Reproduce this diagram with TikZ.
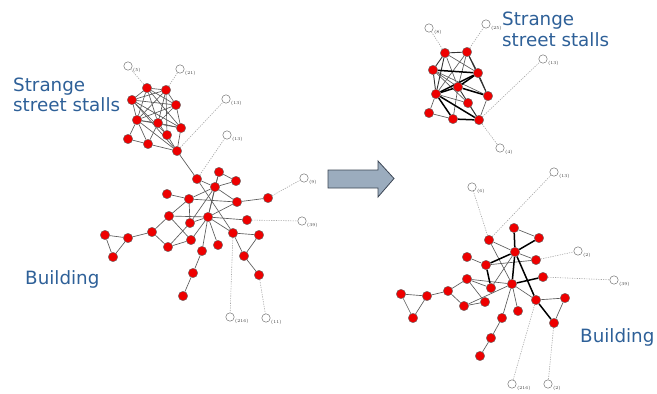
\documentclass[tikz,border=0pt]{standalone}
\usepackage{fontspec}
\newfontfamily\capfont{DejaVu Sans}
\usetikzlibrary{backgrounds}
\definecolor{capblue}{RGB}{46,96,152}
\definecolor{nodered}{RGB}{238,0,0}
\definecolor{arrowfill}{RGB}{155,172,190}
\definecolor{arrowline}{RGB}{60,70,85}
\tikzset{
  rn/.style={circle, minimum size=9.4pt, inner sep=0pt, fill=nodered, draw=black!60, line width=0.4pt},
  on/.style={circle, minimum size=8.4pt, inner sep=0pt, fill=white, draw=black!55, line width=0.5pt},
  lbl/.style={font=\fontsize{4.4}{5}\selectfont, text=black!80, inner sep=0.5pt},
  edge/.style={draw=black!65, line width=0.65pt},
  medge/.style={draw=black!80, line width=0.9pt},
  tedge/.style={draw=black, line width=1.5pt},
  dedge/.style={draw=black!35, line width=0.6pt, dash pattern=on 1.2pt off 1.2pt},
  caption/.style={font=\capfont\fontsize{18.3}{20.5}\selectfont, text=capblue, align=left, inner sep=0pt, anchor=base west}
}
\begin{document}
\begin{tikzpicture}[x=1pt,y=-1pt]
\useasboundingbox (0,0) rectangle (657,394);

% ---------- left: market stall cluster ----------
\foreach \n/\x/\y in {A1/147/88, A2/166/90, A3/132/100, A4/176/105, A5/137/120,
  A6/158/123, A7/181/128, A8/167/135, A9/128/139, A10/148/144, A11/177/151}
  \node[rn] (\n) at (\x,\y) {};

% ---------- left: building cluster ----------
\foreach \n/\x/\y in {B1/197/179, B2/219/172, B3/236/181, B4/215/187, B5/167/194,
  B6/189/199, B7/237/202, B8/268/198, B9/169/216, B10/190/223, B11/208/217,
  B12/247/220, B13/152/232, B14/191/240, B15/233/233, B16/259/235, B17/168/247,
  B18/218/245, B19/202/251, B20/244/256, B21/193/273, B22/259/275, B23/183/296,
  C1/105/235, C2/128/238, C3/113/257}
  \node[rn] (\n) at (\x,\y) {};

% ---------- left: outside contacts ----------
\foreach \n/\x/\y/\t in {l5/128/66/{(5)}, l21/180/69/{(21)}, l13a/226/99/{(13)},
  l13b/227/135/{(13)}, l9/304/178/{(9)}, l39/302/221/{(39)}, l216/230/317/{(216)},
  l11/266/318/{(11)}}
  \node[on, label={[lbl]-15:\t}] (\n) at (\x,\y) {};

% ---------- right: market stall cluster ----------
\foreach \n/\x/\y in {D1/445/53, D2/467/52, D3/433/70, D4/478/73, D5/458/87,
  D6/436/94, D7/488/96, D8/468/103, D9/429/113, D10/453/119, D11/479/120}
  \node[rn] (\n) at (\x,\y) {};

% ---------- right: building cluster ----------
\foreach \n/\x/\y in {E1/489/240, E2/514/228, E3/539/238, E4/515/252, E5/467/257,
  E6/536/260, E7/486/265, E8/543/277, E9/467/279, E10/512/284, E11/491/288,
  E12/448/291, E14/427/296, E15/401/294, E16/413/318, E17/464/306, E18/485/302,
  E19/536/300, E20/565/298, E21/518/311, E22/502/318, E24/491/338, E25/480/356,
  E23/554/323}
  \node[rn] (\n) at (\x,\y) {};

% ---------- right: outside contacts ----------
\foreach \n/\x/\y/\t in {r8/429/28/{(8)}, r25/486/24/{(25)}, r13a/543/59/{(13)},
  r4/500/148/{(4)}, r6/472/187/{(6)}, r13b/554/172/{(13)}, r2a/578/251/{(2)},
  r39/614/280/{(39)}, r216/512/384/{(216)}, r2b/548/384/{(2)}}
  \node[on, label={[lbl]-15:\t}] (\n) at (\x,\y) {};

\begin{pgfonlayer}{background}
  % stall cluster, left
  \foreach \a/\b in {A1/A2, A1/A3, A1/A4, A1/A5, A1/A6, A1/A7, A2/A3, A2/A4, A2/A5,
    A2/A6, A2/A8, A3/A4, A3/A5, A3/A7, A3/A8, A3/A11, A4/A5, A4/A6, A4/A7,
    A5/A6, A5/A7, A5/A9, A5/A10, A5/A11, A6/A7, A6/A8, A6/A10, A7/A11, A8/A11,
    A9/A10, A10/A11}
    \draw[edge] (\a) -- (\b);
  % building cluster, left
  \foreach \a/\b in {A11/B1, B1/B4, B1/B15, B2/B3, B2/B4, B4/B3, B4/B6, B4/B7,
    B4/B11, B4/B10, B5/B6, B6/B7, B6/B9, B6/B10, B9/B11, B9/B13, B9/B14,
    B13/B17, B17/B14, B10/B17, B10/B11, B11/B7, B11/B12, B11/B15, B11/B14,
    B11/B19, B11/B18, B11/B2, B7/B8, B15/B16, B15/B20, B16/B20, B20/B22,
    B19/B21, B21/B23, C1/C2, C1/C3, C2/C3, C2/B13}
    \draw[edge] (\a) -- (\b);
  \foreach \a/\b in {A1/l5, A2/l21, A11/l13a, B1/l13b, B8/l9, B12/l39,
    B15/l216, B22/l11}
    \draw[dedge] (\a) -- (\b);

  % stall cluster, right
  \foreach \a/\b in {D1/D5, D1/D4, D2/D5, D2/D6, D3/D5, D3/D8, D6/D8,
    D6/D9, D9/D10, D7/D11, D8/D11, D5/D10, D3/D7}
    \draw[edge] (\a) -- (\b);
  \foreach \a/\b in {D1/D2, D1/D3, D1/D6, D2/D4, D2/D7, D3/D6, D4/D7, D5/D11}
    \draw[medge] (\a) -- (\b);
  \foreach \a/\b in {D3/D4, D4/D5, D4/D6, D5/D6, D5/D7, D6/D10, D6/D11, D10/D11}
    \draw[tedge] (\a) -- (\b);
  \foreach \a/\b in {D1/r8, D2/r25, D11/r13a, D11/r4}
    \draw[dedge] (\a) -- (\b);

  % building cluster, right
  \foreach \a/\b in {E1/E4, E2/E3, E4/E6, E5/E7, E7/E6, E9/E12, E9/E11, E9/E10,
    E12/E14, E12/E17, E17/E18, E17/E10, E9/E18, E10/E19, E10/E21, E10/E22,
    E22/E24, E24/E25, E19/E20, E20/E23, E14/E15, E15/E16, E14/E16, E1/E10,
    E4/E11}
    \draw[edge] (\a) -- (\b);
  \foreach \a/\b in {E2/E4, E3/E4, E4/E7, E4/E10, E4/E19, E7/E11, E10/E8, E19/E23}
    \draw[tedge] (\a) -- (\b);
  \foreach \a/\b in {E1/r6, E1/r13b, E6/r2a, E8/r39, E19/r216, E23/r2b}
    \draw[dedge] (\a) -- (\b);
\end{pgfonlayer}

% ---------- block arrow ----------
\draw[fill=arrowfill, draw=arrowline, line width=0.8pt, line join=miter]
  (328,170) -- (378,170) -- (378,161) -- (394,178.5) -- (378,197) -- (378,188)
  -- (328,188) -- cycle;

% ---------- captions (base anchor sits on the last line) ----------
\node[caption] (capL1) at (13,111.5) {Strange\\street stalls};
\node[caption] (capL2) at (25,284) {Building};
\node[caption] (capR1) at (502,46) {Strange\\street stalls};
\node[caption] (capR2) at (580,342) {Building};
\end{tikzpicture}
\end{document}
